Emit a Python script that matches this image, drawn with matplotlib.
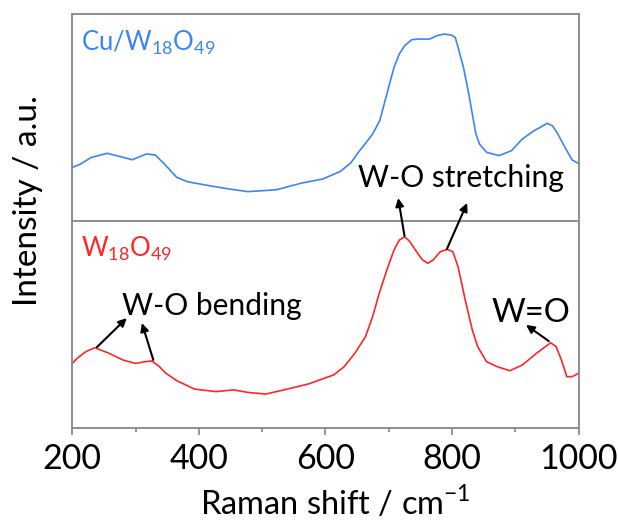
import matplotlib
matplotlib.use('Agg')
import matplotlib.pyplot as plt
from matplotlib.ticker import MultipleLocator

plt.rcParams['font.family'] = ['Lato', 'DejaVu Sans']
plt.rcParams['mathtext.fontset'] = 'custom'
plt.rcParams['mathtext.rm'] = 'Lato'

# Cu/W18O49 spectrum (upper trace, offset by +1)
cu_shift = [200, 212.9, 229.8, 255.2, 274.9, 294.6, 317.1, 331.2, 348.1, 365.0, 381.8,
            415.6, 449.4, 477.6, 522.6, 562.0, 595.8, 623.9, 640.8, 652.1, 663.3, 674.6,
            685.9, 691.5, 699.9, 708.4, 716.8, 725.3, 736.5, 747.8, 764.7, 775.9, 787.2,
            798.5, 805.2, 809.7, 818.2, 826.6, 832.2, 837.9, 843.5, 854.8, 874.5, 894.2,
            911.1, 928.0, 939.2, 950.5, 958.9, 967.4, 978.6, 989.9, 1000]
cu_int = [1.259, 1.275, 1.307, 1.327, 1.312, 1.296, 1.324, 1.319, 1.267, 1.211, 1.190,
          1.171, 1.154, 1.142, 1.151, 1.183, 1.203, 1.240, 1.283, 1.332, 1.375, 1.420,
          1.485, 1.549, 1.646, 1.742, 1.807, 1.847, 1.876, 1.879, 1.879, 1.895, 1.903,
          1.899, 1.887, 1.839, 1.742, 1.613, 1.517, 1.420, 1.372, 1.332, 1.316, 1.340,
          1.396, 1.433, 1.452, 1.472, 1.460, 1.420, 1.356, 1.295, 1.278]

# W18O49 spectrum (lower trace)
w_shift = [200, 207.3, 221.4, 235.5, 258.0, 280.5, 300.2, 314.3, 325.5, 336.8, 348.1,
           365.0, 393.1, 426.9, 455.0, 477.6, 505.7, 539.5, 573.3, 612.7, 629.6, 646.5,
           663.3, 674.6, 685.9, 697.1, 708.4, 716.8, 725.3, 733.7, 742.2, 753.4, 761.9,
           770.3, 781.6, 792.8, 801.3, 809.7, 821.0, 832.2, 840.7, 854.8, 871.7, 891.4,
           911.1, 933.6, 947.7, 956.1, 964.6, 973.0, 981.5, 989.9, 1000]
w_int = [0.312, 0.336, 0.369, 0.388, 0.361, 0.328, 0.312, 0.320, 0.324, 0.299, 0.264,
         0.229, 0.188, 0.176, 0.184, 0.172, 0.164, 0.188, 0.213, 0.256, 0.296, 0.361,
         0.441, 0.538, 0.659, 0.763, 0.860, 0.908, 0.924, 0.900, 0.860, 0.812, 0.796,
         0.812, 0.852, 0.863, 0.852, 0.779, 0.618, 0.473, 0.393, 0.320, 0.296, 0.277,
         0.304, 0.361, 0.393, 0.412, 0.393, 0.329, 0.248, 0.248, 0.264]

BLUE = '#3a86f2'
RED = '#ff2626'
GREY = '#868686'

fig = plt.figure(figsize=(6.18, 5.23), dpi=100)
ax = fig.add_axes([0.117, 0.1816, 0.8191, 0.7916])

ax.plot(cu_shift, cu_int, color=BLUE, lw=1.2)
ax.plot(w_shift, w_int, color=RED, lw=1.2)
ax.axhline(1.0, color=GREY, lw=1.3)

ax.set_xlim(200, 1000)
ax.set_ylim(0, 2)
ax.set_yticks([])
ax.xaxis.set_major_locator(MultipleLocator(200))
ax.xaxis.set_minor_locator(MultipleLocator(100))
ax.tick_params(axis='x', which='major', direction='out', length=5, width=1.2,
               color=GREY, labelsize=24.5, pad=6)
ax.tick_params(axis='x', which='minor', direction='out', length=3, width=1.2, color=GREY)
for sp in ax.spines.values():
    sp.set_color(GREY)
    sp.set_linewidth(1.3)

ax.set_xlabel('Raman shift / cm$^{-1}$', fontsize=23.5, va='baseline')
ax.xaxis.set_label_coords(0.52, -0.21)
ax.set_ylabel('Intensity / a.u.', fontsize=24, va='center')
ax.yaxis.set_label_coords(-0.087, 0.55)

ax.text(214, 1.823, r'Cu/W$_{18}$O$_{49}$', color=BLUE, fontsize=18.5, va='baseline')
ax.text(213, 0.827, r'W$_{18}$O$_{49}$', color=RED, fontsize=18.5, va='baseline')

ax.text(652, 1.162, 'W-O stretching', fontsize=21.6, va='baseline')
ax.text(278, 0.546, 'W-O bending', fontsize=21.6, va='baseline')
ax.text(863, 0.514, 'W=O', fontsize=23.5, va='baseline')

arrow = dict(arrowstyle='-|>', color='black', lw=1.5, mutation_scale=12, shrinkA=0, shrinkB=0)
ax.annotate('', xy=(286, 0.531), xytext=(239, 0.391), arrowprops=arrow)
ax.annotate('', xy=(310, 0.507), xytext=(328, 0.329), arrowprops=arrow)
ax.annotate('', xy=(917, 0.498), xytext=(953, 0.420), arrowprops=arrow)
ax.annotate('', xy=(715, 1.111), xytext=(725, 0.928), arrowprops=arrow)
ax.annotate('', xy=(824, 1.087), xytext=(792, 0.865), arrowprops=arrow)

fig.savefig('out.png', dpi=100)
